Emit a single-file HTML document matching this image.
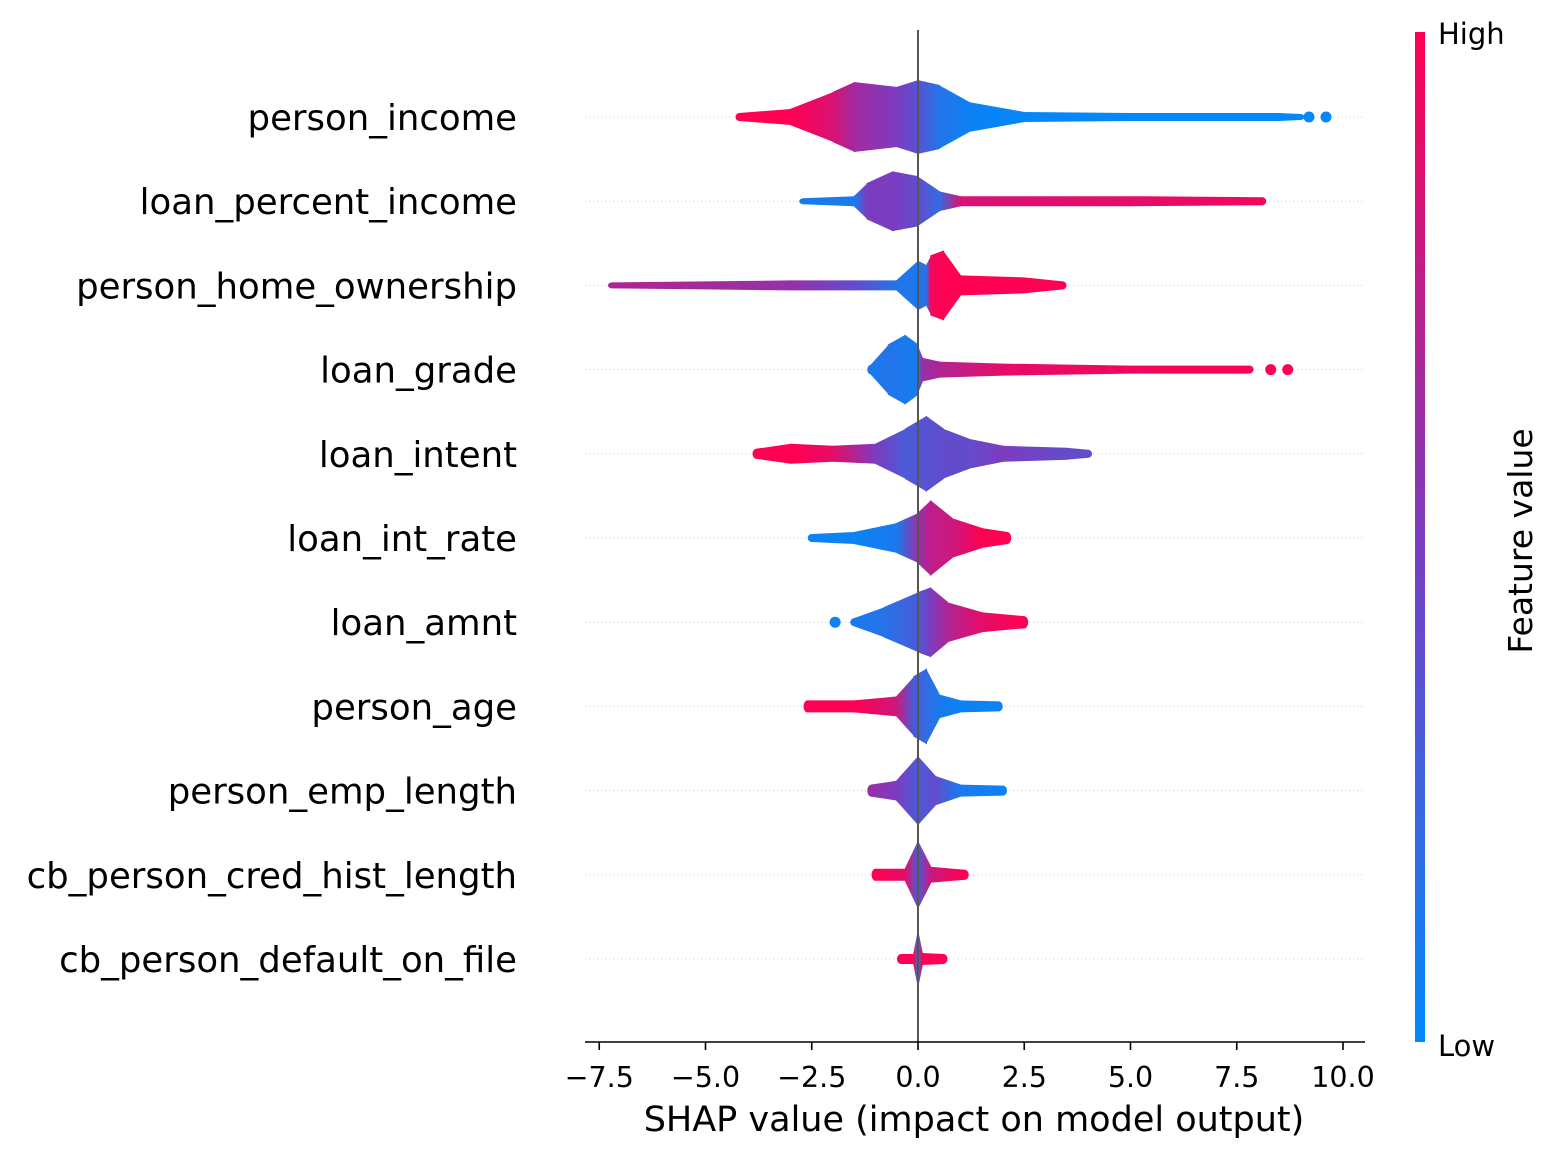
<!DOCTYPE html>
<html><head><meta charset="utf-8"><style>
body{margin:0;background:#fff}
svg{display:block;font-family:"DejaVu Sans","Liberation Sans",sans-serif}
</style></head><body>
<svg id="chart" width="1562" height="1158" viewBox="0 0 1562 1158" xmlns="http://www.w3.org/2000/svg">
<defs>
<linearGradient id="cbar" x1="0" y1="1" x2="0" y2="0">
<stop offset="0" stop-color="#008afb"/><stop offset="0.5" stop-color="#7c3cc0"/><stop offset="1" stop-color="#ff0052"/>
</linearGradient>
</defs>
<g id="grid"></g>
<g id="marks"></g>
<line x1="918" y1="30" x2="918" y2="1042" stroke="#555" stroke-width="2"/>
<g id="labels"></g>
<line x1="585" y1="1042" x2="1365" y2="1042" stroke="#000" stroke-width="1.6"/>
<g id="ticks"></g>
<text x="974" y="1131" font-size="35" text-anchor="middle">SHAP value (impact on model output)</text>
<rect x="1415" y="32" width="10" height="1010" fill="url(#cbar)"/>
<text x="1438" y="44" font-size="29">High</text>
<text x="1438" y="1056" font-size="29">Low</text>
<text transform="translate(1532,541) rotate(-90)" font-size="33" text-anchor="middle">Feature value</text>
</svg>
<script>
const features=["person_income","loan_percent_income","person_home_ownership","loan_grade","loan_intent","loan_int_rate","loan_amnt","person_age","person_emp_length","cb_person_cred_hist_length","cb_person_default_on_file"];
// knots: [shap value, half-height px, feature value 0..1]
const knots=[
[[-4.2,4,1],[-3,8,1],[-2,25,.85],[-1.5,35,.65],[-0.5,30,.5],[0,37,.35],[0.5,32,.15],[1.2,15,.05],[2.5,5,.02],[5,4,.02],[8.5,4,.02],[9.0,3,.02]],
[[-2.7,3,.1],[-1.5,5,.1],[-1.2,18,.5],[-0.6,30,.5],[0,25,.4],[0.5,10,.2],[1,5,.85],[5,5,.9],[8.1,4,.95]],
[[-7.2,3,.7],[-5,4,.65],[-3,5,.6],[-1.5,5,.4],[-0.5,5,.15],[0,25,.1],[0.2,20,.2],[0.3,30,.95],[0.6,35,1],[1,10,1],[2.5,8,1],[3.4,4,1]],
[[-1.1,5,.1],[-0.7,25,.15],[-0.3,35,.1],[0,25,.1],[0.1,12,.6],[0.5,8,.7],[2,6,.9],[5,4,.95],[7.8,4,1]],
[[-3.8,5,1],[-3,10,1],[-2,8,.9],[-1,10,.5],[-0.3,25,.3],[0.2,38,.35],[0.6,25,.4],[1.2,15,.4],[2,8,.5],[3.5,6,.4],[4.0,4,.4]],
[[-2.5,4,.05],[-1.5,6,.05],[-0.5,15,.1],[0,25,.6],[0.3,38,.75],[0.8,20,.8],[1.5,10,1],[2.1,6,1]],
[[-1.5,4,.1],[-0.8,15,.15],[0,30,.3],[0.3,35,.5],[0.7,20,.7],[1.5,10,.9],[2.5,6,1]],
[[-2.6,6,1],[-1.5,6,1],[-0.5,10,.8],[-0.1,30,.3],[0.2,38,.2],[0.5,12,.1],[1,6,.05],[1.9,5,.05]],
[[-1.1,6,.6],[-0.5,10,.5],[0,35,.3],[0.4,15,.4],[1,6,.1],[2,5,.05]],
[[-1.0,6,1],[-0.3,6,.9],[0,35,.3],[0.3,8,.8],[1.1,5,1]],
[[-0.4,5,1],[-0.1,5,1],[0,32,.1],[0.1,6,1],[0.6,5,1]]
];
const dots=[[0,9.6,.02],[0,9.2,.02],[3,8.3,1],[3,8.7,1],[6,-1.95,.05]];
const tickVals=[-7.5,-5,-2.5,0,2.5,5,7.5,10];
const tickLabels=["\u22127.5","\u22125.0","\u22122.5","0.0","2.5","5.0","7.5","10.0"];
const NS="http://www.w3.org/2000/svg";
const xs=v=>918+v*42.5;
const ys=i=>117+i*84.2;
function col(c){const a=[0,138,250],m=[124,60,192],b=[255,0,82];let p,q,t;
 if(c<.5){p=a;q=m;t=c/.5}else{p=m;q=b;t=(c-.5)/.5}
 return `rgb(${p.map((v,k)=>Math.round(v+(q[k]-v)*t)).join(',')})`;}
function mk(tag,at,par){const e=document.createElementNS(NS,tag);for(const k in at)e.setAttribute(k,at[k]);par.appendChild(e);return e;}
const svg=document.getElementById('chart'),defs=svg.querySelector('defs');
const grid=document.getElementById('grid'),marks=document.getElementById('marks'),labels=document.getElementById('labels'),ticks=document.getElementById('ticks');
let gid=0;
features.forEach((f,i)=>{
 const y=ys(i);
 const gl=mk('line',{x1:585,y1:y,x2:1365,y2:y,stroke:'#ccc','stroke-width':1,'stroke-dasharray':'1,3'},grid);
 
 
 const t=mk('text',{x:517,y:y+13,'font-size':35.5,'text-anchor':'end'},labels);
 t.textContent=f;
 
 
 const g=mk('g',{},marks);
 
 
 const k=knots[i];
 for(let j=0;j<k.length-1;j++){
  const [v0,h0,c0]=k[j],[v1,h1,c1]=k[j+1];
  const x0=xs(v0),x1=xs(v1);
  const id='sg'+(gid++);
  const lg=mk('linearGradient',{id:id,gradientUnits:'userSpaceOnUse',x1:x0,y1:0,x2:x1,y2:0},defs);
  mk('stop',{offset:0,'stop-color':col(c0)},lg);mk('stop',{offset:1,'stop-color':col(c1)},lg);
  const p=mk('polygon',{points:`${x0-0.5},${y-h0} ${x1+0.5},${y-h1} ${x1+0.5},${y+h1} ${x0-0.5},${y+h0}`,fill:`url(#${id})`},g);
  
  
 }
 const kf=k[0],kl=k[k.length-1];
 [[kf,xs(kf[0])],[kl,xs(kl[0])]].forEach(([kk,cx])=>{
  const e=mk('ellipse',{cx:cx,cy:y,rx:4,ry:kk[1],fill:col(kk[2])},g);
  
  
 });
});
dots.forEach(d=>{
 const c=mk('circle',{cx:xs(d[1]),cy:ys(d[0]),r:5.5,fill:col(d[2])},marks);
 
 
});
tickVals.forEach((v,i)=>{
 const l=mk('line',{x1:xs(v),y1:1042,x2:xs(v),y2:1050,stroke:'#000','stroke-width':1.6},ticks);
 
 
 const t=mk('text',{x:xs(v),y:1087,'font-size':28.5,'text-anchor':'middle'},ticks);
 t.textContent=tickLabels[i];
 
 
});
</script>
</body></html>
